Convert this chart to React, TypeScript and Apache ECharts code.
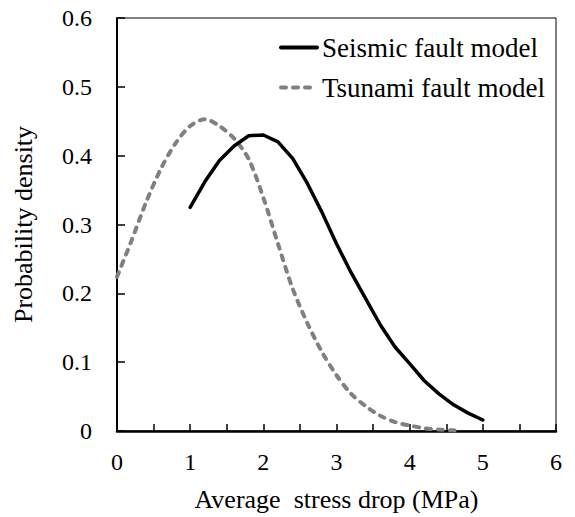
import React, { useEffect, useRef } from "react";
import * as echarts from "echarts";

const seismicX = [1.0, 1.2, 1.4, 1.6, 1.8, 2.0, 2.2, 2.4, 2.6, 2.8, 3.0, 3.2, 3.4, 3.6, 3.8, 4.0, 4.2, 4.4, 4.6, 4.8, 5.0];
const seismicY = [0.325, 0.362, 0.393, 0.414, 0.429, 0.430, 0.420, 0.396, 0.360, 0.318, 0.272, 0.230, 0.192, 0.154, 0.122, 0.098, 0.073, 0.054, 0.038, 0.026, 0.016];

const tsunamiX = [0.0, 0.2, 0.4, 0.6, 0.8, 1.0, 1.2, 1.4, 1.6, 1.8, 2.0, 2.2, 2.4, 2.6, 2.8, 3.0, 3.2, 3.4, 3.6, 3.8, 4.0, 4.2, 4.4, 4.6, 4.7];
const tsunamiY = [0.224, 0.277, 0.333, 0.381, 0.418, 0.443, 0.453, 0.443, 0.425, 0.395, 0.339, 0.272, 0.207, 0.157, 0.115, 0.081, 0.054, 0.036, 0.022, 0.013, 0.008, 0.004, 0.002, 0.001, 0.0];

const seriesNames = ["Seismic fault model", "Tsunami fault model"];
const xTitle = "Average  stress drop (MPa)";
const yTitle = "Probability density";

const FONT = "Liberation Serif";

export default function App() {
  const ref = useRef<HTMLDivElement>(null);
  useEffect(() => {
    if (!ref.current) return;
    const chart = echarts.init(ref.current, null, { renderer: "svg" });
    chart.setOption({
      animation: false,
      backgroundColor: "#ffffff",
      textStyle: { fontFamily: FONT },
      grid: {
        left: 117,
        right: 19,
        top: 18,
        bottom: 86,
        show: true,
        borderColor: "#000",
        borderWidth: 1,
        backgroundColor: "transparent",
      },
      legend: {
        orient: "vertical",
        left: 279,
        top: 34,
        padding: 0,
        itemWidth: 36,
        itemHeight: 14,
        itemGap: 13,
        itemStyle: { opacity: 0 },
        lineStyle: { width: 4 },
        textStyle: { fontFamily: FONT, fontSize: 27, color: "#000", lineHeight: 27 },
        data: seriesNames,
      },
      xAxis: {
        type: "value",
        min: 0,
        max: 6,
        interval: 0.5,
        name: xTitle,
        nameLocation: "middle",
        nameGap: 55,
        nameTextStyle: { fontFamily: FONT, fontSize: 26, color: "#000" },
        axisLine: { show: true, lineStyle: { color: "#000", width: 2.5 } },
        axisTick: { show: true, inside: true, length: 7, lineStyle: { color: "#000", width: 1.5 } },
        axisLabel: {
          fontFamily: FONT,
          fontSize: 24,
          color: "#000",
          margin: 19,
          showMinLabel: true,
          showMaxLabel: true,
          formatter: (v: number) => (Math.abs(v - Math.round(v)) < 1e-9 ? String(Math.round(v)) : ""),
        },
        splitLine: { show: false },
      },
      yAxis: {
        type: "value",
        min: 0,
        max: 0.6,
        interval: 0.1,
        name: yTitle,
        nameLocation: "middle",
        nameGap: 81,
        nameTextStyle: { fontFamily: FONT, fontSize: 26, color: "#000" },
        axisLine: { show: true, lineStyle: { color: "#000", width: 2 } },
        axisTick: { show: true, inside: true, length: 8, lineStyle: { color: "#000", width: 1.5 } },
        axisLabel: {
          fontFamily: FONT,
          fontSize: 24,
          color: "#000",
          margin: 25,
          formatter: (v: number) => (v === 0 ? "0" : v.toFixed(1)),
        },
        splitLine: { show: false },
      },
      series: [
        {
          name: seriesNames[0],
          type: "line",
          symbol: "none",
          data: seismicX.map((x, i) => [x, seismicY[i]]),
          lineStyle: { color: "#000", width: 3.5, cap: "round", join: "round" },
          itemStyle: { color: "#000" },
          z: 3,
        },
        {
          name: seriesNames[1],
          type: "line",
          symbol: "none",
          smooth: 0.3,
          data: tsunamiX.map((x, i) => [x, tsunamiY[i]]),
          lineStyle: { color: "#808080", width: 4, type: [5, 7], cap: "round" },
          itemStyle: { color: "#808080" },
          z: 2,
        },
      ],
    });
    return () => chart.dispose();
  }, []);
  return (
    <div
      ref={ref}
      style={{ position: "fixed", left: 0, top: 0, width: 575, height: 517, background: "#fff" }}
    />
  );
}
